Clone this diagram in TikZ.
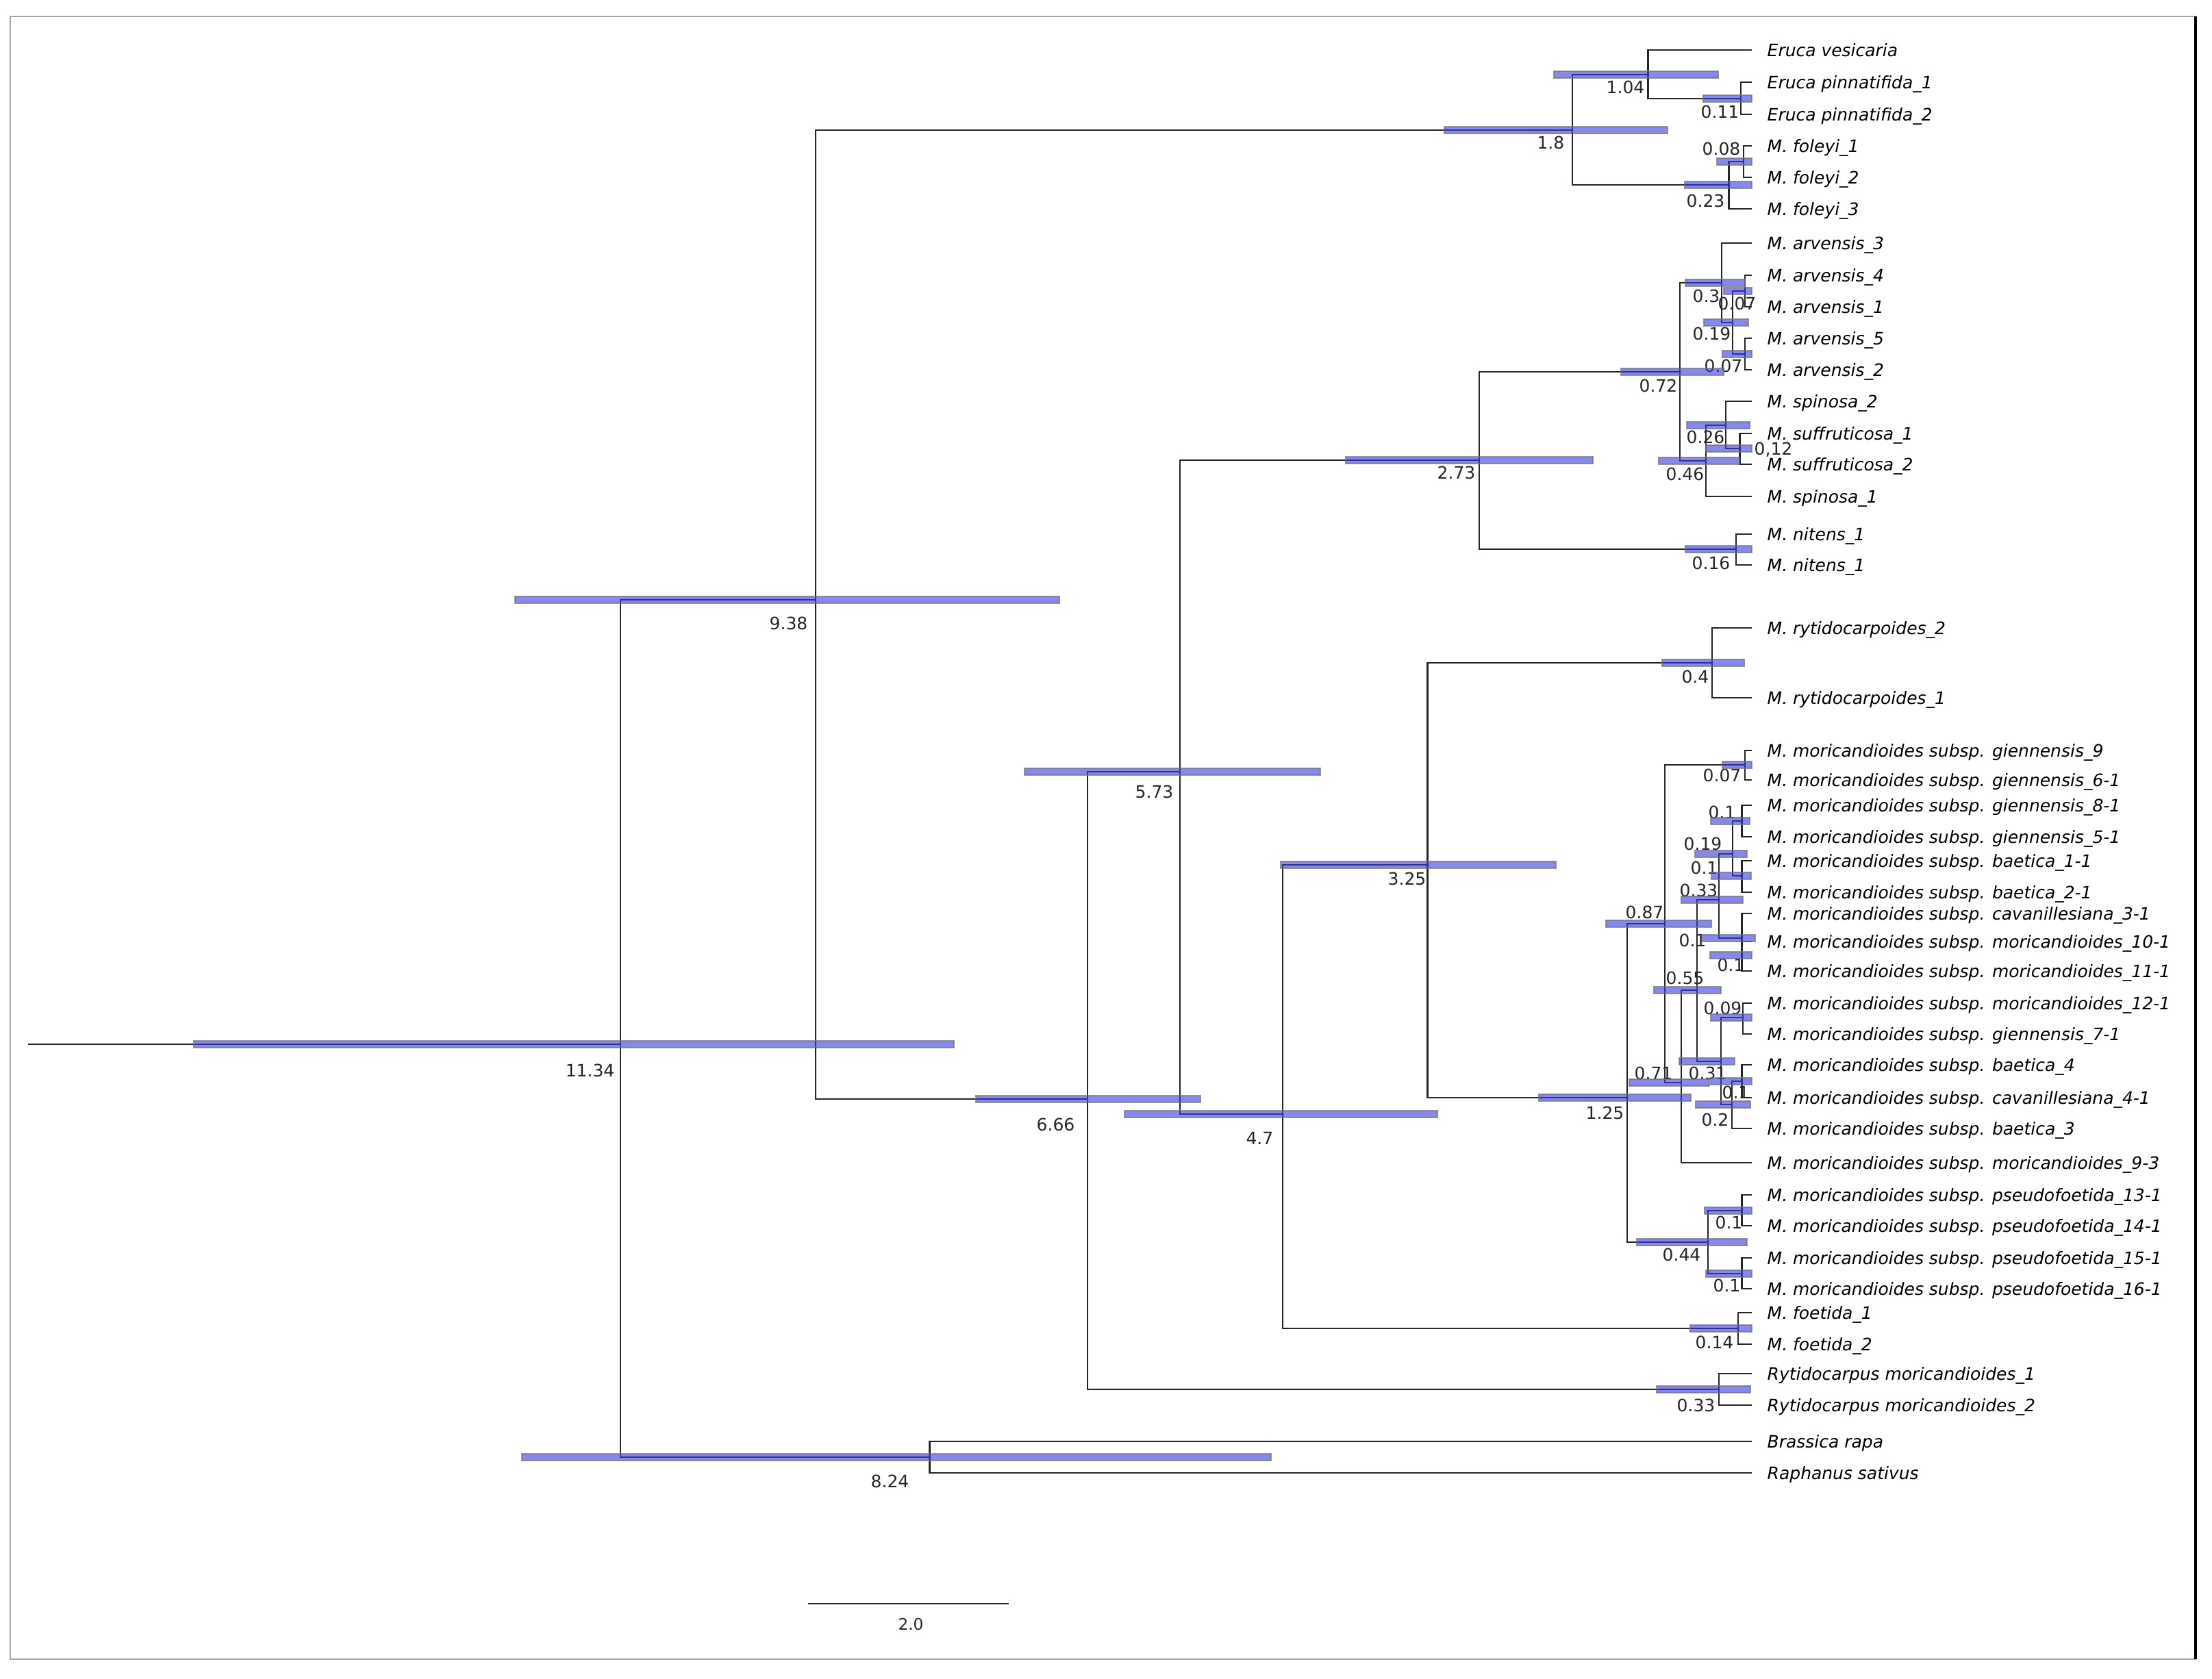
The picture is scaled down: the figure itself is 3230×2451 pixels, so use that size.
\documentclass[tikz,border=0pt]{standalone}
\usepackage{fontspec}
\setmainfont{DejaVu Sans}
\pgfdeclarelayer{fg}
\pgfsetlayers{main,fg}
\definecolor{hpdblue}{RGB}{55,55,230}
\newcommand{\tip}[3]{%
  \coordinate (#1) at (2558,#2);
  \node[tiplab] (#1-l) at (2580,{#2+9}) {#3};}
\newcommand{\inode}[8]{% name, label, age, y, x1, x2, labx, laby
  \coordinate (#1) at ({2558-145.7*#3},#4);
  \begin{pgfonlayer}{fg}
    \path[hpd] (#5,{#4-5}) rectangle (#6,{#4+5});
  \end{pgfonlayer}
  \node[agelab] (#1-a) at (#7,#8) {#2};}
\newcommand{\clade}[3]{\draw[branch] (#2) -- (#2 -| #1) -- (#3 -| #1) -- (#3);}
\begin{document}
\begin{tikzpicture}[x=0.01cm,y=-0.01cm,
  branch/.style={line width=0.6pt, black!85},
  tiplab/.style={anchor=base west, inner sep=0pt, font=\fontsize{7.1}{8}\selectfont\itshape},
  agelab/.style={anchor=east, inner sep=0pt, font=\fontsize{7.1}{8}\selectfont, text=black!85},
  hpd/.style={fill=hpdblue, fill opacity=0.6, draw=black!55, draw opacity=0.7, line width=0.45pt}]
\useasboundingbox (0,0) rectangle (3230,2451);
\fill[white] (0,0) rectangle (3230,2451);
\draw[gray!70, line width=0.5pt] (15,24) rectangle (3206,2423);
\draw[black, line width=1.2pt] (3206,24) -- (3206,2423);

% tips
\tip{t1}{73}{Eruca vesicaria}
\tip{t2}{120}{Eruca pinnatifida\_1}
\tip{t3}{167}{Eruca pinnatifida\_2}
\tip{t4}{213}{M. foleyi\_1}
\tip{t5}{259}{M. foleyi\_2}
\tip{t6}{305}{M. foleyi\_3}
\tip{t7}{355}{M. arvensis\_3}
\tip{t8}{402}{M. arvensis\_4}
\tip{t9}{448}{M. arvensis\_1}
\tip{t10}{494}{M. arvensis\_5}
\tip{t11}{540}{M. arvensis\_2}
\tip{t12}{586}{M. spinosa\_2}
\tip{t13}{633}{M. suffruticosa\_1}
\tip{t14}{678}{M. suffruticosa\_2}
\tip{t15}{725}{M. spinosa\_1}
\tip{t16}{780}{M. nitens\_1}
\tip{t17}{825}{M. nitens\_1}
\tip{t18}{917}{M. rytidocarpoides\_2}
\tip{t19}{1019}{M. rytidocarpoides\_1}
\tip{t20}{1096}{M. moricandioides subsp. giennensis\_9}
\tip{t21}{1139}{M. moricandioides subsp. giennensis\_6-1}
\tip{t22}{1176}{M. moricandioides subsp. giennensis\_8-1}
\tip{t23}{1222}{M. moricandioides subsp. giennensis\_5-1}
\tip{t24}{1257}{M. moricandioides subsp. baetica\_1-1}
\tip{t25}{1303}{M. moricandioides subsp. baetica\_2-1}
\tip{t26}{1334}{M. moricandioides subsp. cavanillesiana\_3-1}
\tip{t27}{1375}{M. moricandioides subsp. moricandioides\_10-1}
\tip{t28}{1418}{M. moricandioides subsp. moricandioides\_11-1}
\tip{t29}{1465}{M. moricandioides subsp. moricandioides\_12-1}
\tip{t30}{1510}{M. moricandioides subsp. giennensis\_7-1}
\tip{t31}{1555}{M. moricandioides subsp. baetica\_4}
\tip{t32}{1603}{M. moricandioides subsp. cavanillesiana\_4-1}
\tip{t33}{1648}{M. moricandioides subsp. baetica\_3}
\tip{t34}{1698}{M. moricandioides subsp. moricandioides\_9-3}
\tip{t35}{1745}{M. moricandioides subsp. pseudofoetida\_13-1}
\tip{t36}{1790}{M. moricandioides subsp. pseudofoetida\_14-1}
\tip{t37}{1837}{M. moricandioides subsp. pseudofoetida\_15-1}
\tip{t38}{1882}{M. moricandioides subsp. pseudofoetida\_16-1}
\tip{t39}{1917}{M. foetida\_1}
\tip{t40}{1963}{M. foetida\_2}
\tip{t41}{2006}{Rytidocarpus moricandioides\_1}
\tip{t42}{2052}{Rytidocarpus moricandioides\_2}
\tip{t43}{2105}{Brassica rapa}
\tip{t44}{2151}{Raphanus sativus}

% internal nodes: name, label, age, y, hpd x1, x2, label right x, label y
\inode{a011}{0.11}{0.11}{144}{2487}{2558}{2540}{163}
\inode{a104}{1.04}{1.04}{109}{2269}{2509}{2402}{127}
\inode{a008}{0.08}{0.08}{236}{2507}{2558}{2542}{217}
\inode{a023}{0.23}{0.23}{270}{2460}{2558}{2519}{293}
\inode{a18}{1.8}{1.8}{190}{2109}{2435}{2285}{208}
\inode{a007a}{0.07}{0.07}{425}{2517}{2558}{2565}{443}
\inode{a007b}{0.07}{0.07}{517}{2515}{2558}{2545}{534}
\inode{a019a}{0.19}{0.19}{471}{2488}{2553}{2528}{487}
\inode{a03}{0.3}{0.3}{413}{2461}{2548}{2512}{432}
\inode{a012}{}{0.12}{655}{2491}{2558}{2540}{657}
\inode{a026}{0.26}{0.26}{621}{2463}{2555}{2519}{638}
\inode{a046}{0.46}{0.46}{673}{2422}{2540}{2489}{692}
\inode{a072}{0.72}{0.72}{543}{2367}{2517}{2450}{563}
\inode{a016}{0.16}{0.16}{802}{2461}{2558}{2527}{822}
\inode{a273}{2.73}{2.73}{672}{1965}{2326}{2155}{690}
\inode{a04}{0.4}{0.4}{968}{2427}{2547}{2496}{988}
\inode{a007c}{0.07}{0.07}{1117}{2515}{2558}{2543}{1132}
\inode{a01a}{0.1}{0.1}{1199}{2498}{2555}{2535}{1186}
\inode{a01b}{0.1}{0.1}{1279}{2499}{2557}{2509}{1267}
\inode{a019b}{0.19}{0.19}{1247}{2475}{2551}{2515}{1232}
\inode{a01d}{0.1}{0.1}{1395}{2497}{2558}{2548}{1409}
\inode{a01c}{0.1}{0.1}{1370}{2486}{2563}{2492}{1373}
\inode{a033a}{0.33}{0.33}{1314}{2455}{2545}{2509}{1300}
\inode{a009}{0.09}{0.09}{1486}{2498}{2558}{2544}{1472}
\inode{a01e}{0.1}{0.1}{1579}{2498}{2558}{2555}{1595}
\inode{a02}{0.2}{0.2}{1613}{2476}{2556}{2525}{1635}
\inode{a031}{0.31}{0.31}{1550}{2452}{2533}{2522}{1567}
\inode{a055}{0.55}{0.55}{1446}{2415}{2513}{2489}{1428}
\inode{a071}{0.71}{0.71}{1581}{2379}{2496}{2443}{1567}
\inode{a087}{0.87}{0.87}{1349}{2345}{2499}{2430}{1332}
\inode{a01f}{0.1}{0.1}{1768}{2489}{2558}{2545}{1785}
\inode{a01g}{0.1}{0.1}{1860}{2491}{2558}{2542}{1877}
\inode{a044}{0.44}{0.44}{1814}{2390}{2551}{2484}{1832}
\inode{a125}{1.25}{1.25}{1603}{2247}{2469}{2372}{1625}
\inode{a325}{3.25}{3.25}{1263}{1870}{2272}{2083}{1283}
\inode{a014}{0.14}{0.14}{1940}{2468}{2558}{2532}{1960}
\inode{a47}{4.7}{4.7}{1627}{1642}{2099}{1860}{1662}
\inode{a573}{5.73}{5.73}{1127}{1496}{1928}{1714}{1156}
\inode{a033b}{0.33}{0.33}{2029}{2419}{2556}{2505}{2052}
\inode{a666}{6.66}{6.66}{1605}{1425}{1753}{1570}{1642}
\inode{a938}{9.38}{9.38}{876}{752}{1547}{1180}{910}
\inode{a824}{8.24}{8.24}{2128}{762}{1856}{1328}{2163}
\inode{root}{11.34}{11.34}{1525}{283}{1393}{898}{1563}
\node[anchor=west, inner sep=0pt, font=\fontsize{7.1}{8}\selectfont, text=black!85] (a012-b) at (2561,657) {0,12};

% branches
\clade{a011}{t2}{t3}
\clade{a104}{t1}{a011}
\clade{a008}{t4}{t5}
\clade{a023}{a008}{t6}
\clade{a18}{a104}{a023}
\clade{a007a}{t8}{t9}
\clade{a007b}{t10}{t11}
\clade{a019a}{a007a}{a007b}
\clade{a03}{t7}{a019a}
\clade{a012}{t13}{t14}
\clade{a026}{t12}{a012}
\clade{a046}{a026}{t15}
\clade{a072}{a03}{a046}
\clade{a016}{t16}{t17}
\clade{a273}{a072}{a016}
\clade{a04}{t18}{t19}
\clade{a007c}{t20}{t21}
\clade{a01a}{t22}{t23}
\clade{a01b}{t24}{t25}
\clade{a019b}{a01a}{a01b}
\clade{a01d}{t27}{t28}
\clade{a01c}{t26}{a01d}
\clade{a033a}{a019b}{a01c}
\clade{a009}{t29}{t30}
\clade{a01e}{t31}{t32}
\clade{a02}{a01e}{t33}
\clade{a031}{a009}{a02}
\clade{a055}{a033a}{a031}
\clade{a071}{a055}{t34}
\clade{a087}{a007c}{a071}
\clade{a01f}{t35}{t36}
\clade{a01g}{t37}{t38}
\clade{a044}{a01f}{a01g}
\clade{a125}{a087}{a044}
\clade{a325}{a04}{a125}
\clade{a014}{t39}{t40}
\clade{a47}{a325}{a014}
\clade{a573}{a273}{a47}
\clade{a033b}{t41}{t42}
\clade{a666}{a573}{a033b}
\clade{a938}{a18}{a666}
\clade{a824}{t43}{t44}
\clade{root}{a938}{a824}
\coordinate (stem) at (41,1525);
\draw[branch] (stem) -- (root);

% scale bar
\coordinate (sb1) at (1180,2342);
\coordinate (sb2) at (1473,2342);
\draw[branch] (sb1) -- (sb2);
\node[inner sep=0pt, font=\fontsize{6.6}{8}\selectfont, text=black!85] (sblab) at (1330,2372) {2.0};
\end{tikzpicture}
\end{document}
